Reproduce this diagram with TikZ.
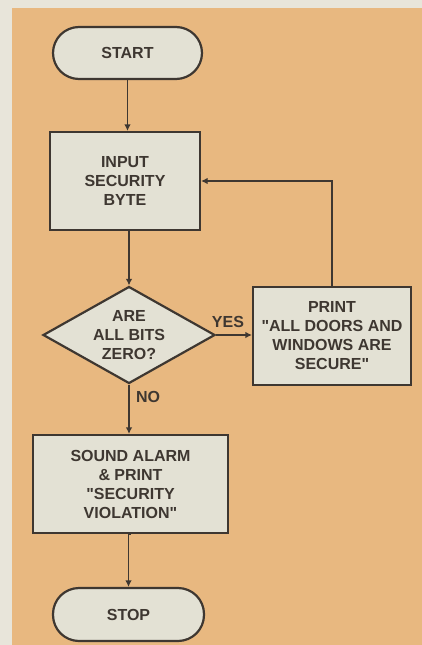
\documentclass[tikz,border=0pt]{standalone}
\usepackage{fontspec}
\setmainfont{Liberation Sans}[Ligatures=TeXOff]
\usetikzlibrary{shapes.geometric,arrows.meta}
\definecolor{paper}{HTML}{E8E5DA}
\definecolor{orangebg}{HTML}{E8B880}
\definecolor{boxfill}{HTML}{E3E1D4}
\definecolor{ink}{HTML}{3E3731}
\begin{document}
\begin{tikzpicture}[x=1pt,y=-1pt,
  txt/.style={font=\bfseries\fontsize{16}{19}\selectfont, text=ink},
  term/.style={txt, draw=ink, line width=2.2pt, fill=boxfill, rounded corners=26pt, inner sep=0pt},
  proc/.style={txt, draw=ink, line width=2.2pt, fill=boxfill, inner sep=0pt, align=center},
  dec/.style={txt, diamond, draw=ink, line width=2.2pt, fill=boxfill, inner sep=0pt, aspect=1.77, align=center},
  conn/.style={draw=ink, line width=1.2pt, -{Latex[length=6.5pt,width=6.5pt]}},
  lbl/.style={txt}
]
\useasboundingbox (0,0) rectangle (422,645);
\fill[paper] (0,0) rectangle (422,645);
\fill[orangebg] (12,8) rectangle (422,645);

\node[term, minimum width=149pt, minimum height=52pt] (start) at (127.5,53) {START};
\node[proc, minimum width=150pt, minimum height=98pt] (inp) at (125,181) {INPUT\\SECURITY\\BYTE};
\node[dec, minimum width=172pt, minimum height=97pt] (dec) at (129,335) {ARE\\ALL BITS\\ZERO?};
\node[proc, minimum width=158pt, minimum height=98pt] (prt) at (332,336) {PRINT\\"ALL DOORS AND\\WINDOWS ARE\\SECURE"};
\node[proc, minimum width=195pt, minimum height=98pt] (snd) at (130.5,484) {SOUND ALARM\\\& PRINT\\"SECURITY\\VIOLATION"};
\node[term, minimum width=151pt, minimum height=53pt] (stop) at (128.5,614.5) {STOP};

\node[lbl] (yes) at (228,322) {YES};
\node[lbl] (no) at (148,397) {NO};

\draw[conn] (start.south) -- (start.south |- inp.north);
\draw[conn] (dec.north |- inp.south) -- (dec.north);
\draw[conn] (dec.east) -- (dec.east -| prt.west);
\draw[conn] (prt.north) |- (inp.east);
\draw[conn] (dec.south) -- (dec.south |- snd.north);
\draw[conn] (snd.south) -- (snd.south -| stop.north) -- (stop.north);
\end{tikzpicture}
\end{document}
